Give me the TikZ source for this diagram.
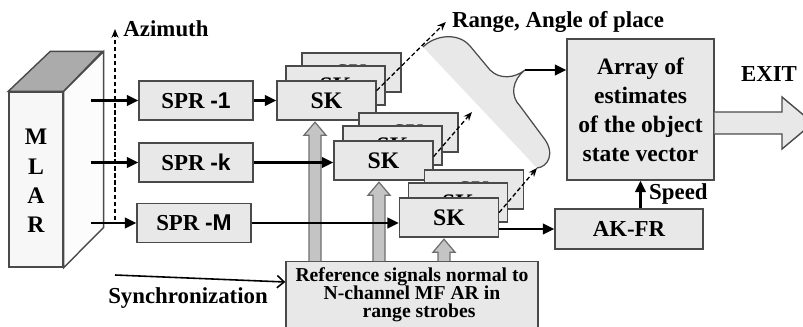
\documentclass[tikz,border=0pt]{standalone}
\usepackage{fontspec}
\setmainfont{Liberation Serif}
\newfontfamily\sprsans{Liberation Sans}
\usetikzlibrary{arrows.meta,calc,positioning}
\definecolor{BoxFill}{HTML}{E8E8E8}
\definecolor{BoxLine}{HTML}{4A4A4A}
\definecolor{ShaftFill}{HTML}{C4C4C4}
\definecolor{TopFace}{HTML}{ABABAB}

\begin{document}
\begin{tikzpicture}[
    x=0.02cm, y=-0.02cm,
    >={Triangle[length=6.5pt,width=6pt]},
    every node/.style={font=\bfseries\fontsize{13}{16}\selectfont},
    sprbox/.style={draw=BoxLine, fill=BoxFill, line width=0.8pt, minimum width=2.28cm, minimum height=0.78cm, inner sep=0pt},
    skbox/.style={sprbox, minimum width=1.98cm, font=\bfseries\fontsize{13.5}{16}\selectfont},
    bigbox/.style={draw=BoxLine, fill=BoxFill, line width=0.8pt, align=center, inner sep=0pt},
    sigline/.style={->, line width=1.3pt},
    dasharr/.style={-{Stealth[length=5pt,width=4pt]}, line width=0.75pt, dash pattern=on 2.5pt off 1.5pt},
    blockarr/.style={draw=BoxLine!80, fill=ShaftFill, line width=0.7pt, line join=miter}
]
\useasboundingbox (0,0) rectangle (803,327);
\clip (0,0) rectangle (803,327);

\node[draw=BoxLine, fill=black!3, line width=0.8pt, minimum width=1.08cm, minimum height=3.5cm, align=center, inner sep=0pt, font=\bfseries\fontsize{13.5}{16.7}\selectfont] (mlar) at (36,179.5) {\\[-6pt]M\\L\\A\\R};
\draw[draw=BoxLine, fill=TopFace, line width=0.8pt] (mlar.north west) -- ++(42,-40) -- ++(52,0) -- (mlar.north east) -- cycle;
\draw[draw=BoxLine, fill=black!1, line width=0.8pt] (mlar.north east) -- ++(40,-40) -- ++(0,176) -- (mlar.south east) -- cycle;

\node[sprbox] (spr1) at (196,100.5) {SPR {\sprsans -1}};
\node[sprbox] (sprk) at (196,162.5) {SPR {\sprsans -k}};
\node[sprbox] (sprm) at (194,223) {SPR {\sprsans -M}};

\node (az) at (166,29) {Azimuth};
\coordinate (azfoot) at (115,220);
\draw[dasharr, line width=0.6pt] (azfoot) -- (azfoot |- az.west);
\foreach \s in {spr1,sprk,sprm}
  \draw[sigline] (91,0 |- \s.west) -- (\s.west);

\node[bigbox, minimum width=5.04cm, minimum height=1.8cm, anchor=north] (ref) at (412,261) {};
\node[align=center, below=3.4pt of ref.north, inner sep=0pt, font=\bfseries\fontsize{11.2}{10.3}\selectfont] (reftxt) {Reference signals normal to\\N-channel MF AR in\\\hspace*{8pt}range strobes};

\foreach \n/\x/\y in {1/326.5/100.5, 2/383.5/160.5, 3/449/217.5} {
  \node[skbox] (skc\n) at (\x+25,\y-28) {SK};
  \node[skbox] (skb\n) at (\x+9,\y-15) {SK};
  \node[skbox] (sk\n) at (\x,\y) {SK};
}

\foreach \ax/\sk in {315/sk1, 379/sk2, 444/sk3} {
  \coordinate (foot) at (\ax,0 |- ref.north);
  \coordinate (head) at ($(\ax,0 |- \sk.south)+(0,1.5)$);
  \draw[blockarr] ($(foot)+(-6,0)$) -- ($(head)+(-6,13)$) -- ($(head)+(-11,13)$) -- (head)
    -- ($(head)+(11,13)$) -- ($(head)+(6,13)$) -- ($(foot)+(6,0)$);
}

\draw[sigline] (spr1) -- (sk1);
\draw[sigline] (sprk.east) -- (sprk.east -| sk2.west);
\draw[sigline] (sprm.east) -- (sprm.east -| sk3.west);

\coordinate (cusp) at (525,70);
\coordinate (bracetip) at (537,168);
\coordinate (bracetop) at (423,47);
\draw[draw=BoxLine, fill=BoxFill, line width=0.7pt] (bracetop) .. controls (435,35) and (458,32) .. (470,46) -- (490,70)
  .. controls (500,80) and (515,78) .. (cusp) .. controls (512,80) and (510,96) .. (520,106) -- (543,137)
  .. controls (556,153) and (548,167) .. (bracetip);

\node (range) at (558,22) {Range, Angle of place};
\coordinate (kend) at (472,112);
\draw[dasharr] ($(sk1.east)+(0,-10)$) -- (range.west);
\draw[dasharr] ($(sk2.east)+(0,-4)$) -- (kend);
\draw[dasharr] ($(sk3.east)+(0,-5)$) -- (bracetip);

\node[bigbox, minimum width=2.94cm, minimum height=2.82cm, font=\bfseries\fontsize{13.4}{16.5}\selectfont] (array) at (640.5,109.5) {Array of\\estimates\\of the object\\state vector};
\draw[sigline] (cusp) -- (cusp -| array.west);

\node (exit) at (769,74) {EXIT};
\draw[draw=BoxLine, fill=BoxFill, line width=0.8pt] (array.east |- 0,112) -- (782,112) -- (782,97) -- (813,123)
  -- (782,149) -- (782,134) -- (array.east |- 0,134);

\node[sprbox, minimum width=2.96cm, minimum height=0.8cm] (akfr) at (629,229) {AK-FR};
\draw[sigline] (sk3.east |- akfr.west) -- (akfr.west);
\draw[sigline] (array.south |- akfr.north) -- (array.south);
\node[anchor=west] (speed) at (643,194) {Speed};

\node (sync) at (188,298) {Synchronization};
\coordinate (syncfoot) at (115,275);
\draw[line width=0.9pt, -{Straight Barb[length=4pt,width=7pt]}] (syncfoot) -- ($(ref.north west)+(0,21)$);
\end{tikzpicture}
\end{document}
